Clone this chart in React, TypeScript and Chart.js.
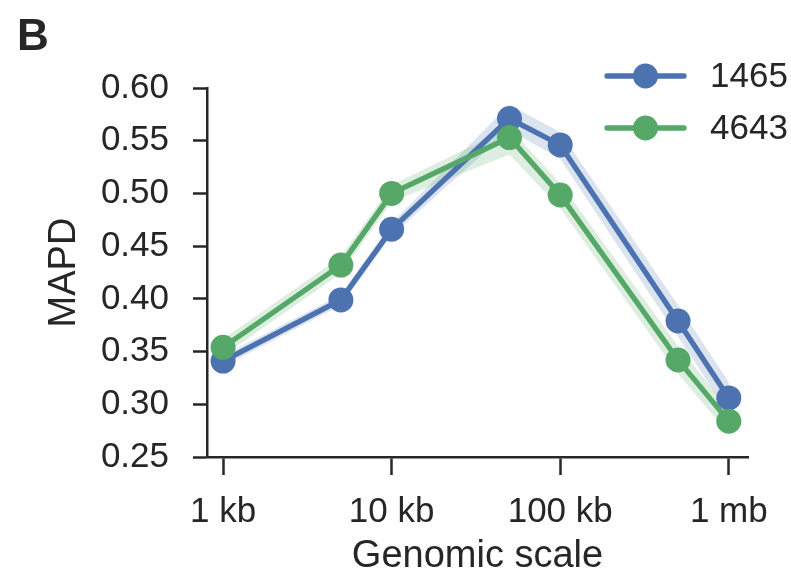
import React, { useEffect, useRef } from "react";
import { Chart, registerables } from "chart.js";

Chart.register(...registerables);

const scalesBp = [1000, 5000, 10000, 50000, 100000, 500000, 1000000];
const tickValues = [1000, 10000, 100000, 1000000];
const tickLabels = ["1 kb", "10 kb", "100 kb", "1 mb"];

const seriesNames = ["1465", "4643"];
const mapd1465 = [0.341, 0.399, 0.466, 0.571, 0.546, 0.379, 0.306];
const upper1465 = [0.346, 0.404, 0.472, 0.584, 0.558, 0.394, 0.321];
const lower1465 = [0.336, 0.394, 0.460, 0.560, 0.533, 0.364, 0.291];
const mapd4643 = [0.354, 0.432, 0.500, 0.553, 0.4985, 0.342, 0.284];
const upper4643 = [0.362, 0.440, 0.508, 0.562, 0.510, 0.355, 0.296];
const lower4643 = [0.346, 0.424, 0.492, 0.537, 0.486, 0.329, 0.272];

const BLUE = "#4C72B0";
const GREEN = "#55A868";
const BLUE_BAND = "rgba(76,114,176,0.2)";
const GREEN_BAND = "rgba(85,168,104,0.2)";
const DARK = "#262626";
const FONT = "'Liberation Sans', Arial, sans-serif";

const pts = (ys: number[]) => ys.map((y, i) => ({ x: scalesBp[i], y }));

export default function App() {
  const ref = useRef<HTMLCanvasElement | null>(null);

  useEffect(() => {
    document.body.style.margin = "0";
    const canvas = ref.current;
    if (!canvas) return;

    const extras = {
      id: "extras",
      afterDraw(chart: any) {
        const ctx = chart.ctx;
        const area = chart.chartArea;
        ctx.save();
        // panel letter
        ctx.fillStyle = DARK;
        ctx.font = `bold 44px ${FONT}`;
        ctx.textBaseline = "alphabetic";
        ctx.textAlign = "left";
        ctx.fillText("B", 17, 50);
        // legend
        const colors = [BLUE, GREEN];
        const x0 = area.right - 141;
        const x1 = area.right - 64;
        const cx = (x0 + x1) / 2;
        seriesNames.forEach((name, i) => {
          const y = area.top - 12 + i * 52;
          ctx.strokeStyle = colors[i];
          ctx.lineWidth = 5.3;
          ctx.lineCap = "round";
          ctx.beginPath();
          ctx.moveTo(x0, y);
          ctx.lineTo(x1, y);
          ctx.stroke();
          ctx.fillStyle = colors[i];
          ctx.beginPath();
          ctx.arc(cx, y, 12.5, 0, Math.PI * 2);
          ctx.fill();
          ctx.fillStyle = DARK;
          ctx.font = `35px ${FONT}`;
          ctx.textBaseline = "middle";
          ctx.fillText(name, x1 + 26, y + 1);
        });
        ctx.restore();
      },
    };

    const chart = new Chart(canvas, {
      type: "line",
      data: {
        datasets: [
          {
            label: "4643",
            data: pts(mapd4643),
            borderColor: GREEN,
            backgroundColor: GREEN,
            borderWidth: 5.3,
            pointRadius: 12.5,
            pointHoverRadius: 12.5,
            pointBorderWidth: 0,
            fill: false,
            order: 0,
          },
          {
            label: "1465",
            data: pts(mapd1465),
            borderColor: BLUE,
            backgroundColor: BLUE,
            borderWidth: 5.3,
            pointRadius: 12.5,
            pointHoverRadius: 12.5,
            pointBorderWidth: 0,
            fill: false,
            order: 1,
          },
          {
            label: "4643 upper",
            data: pts(upper4643),
            borderWidth: 0,
            borderColor: "rgba(0,0,0,0)",
            pointRadius: 0,
            backgroundColor: GREEN_BAND,
            fill: "+1",
            order: 2,
          },
          {
            label: "4643 lower",
            data: pts(lower4643),
            borderWidth: 0,
            borderColor: "rgba(0,0,0,0)",
            pointRadius: 0,
            fill: false,
            order: 2,
          },
          {
            label: "1465 upper",
            data: pts(upper1465),
            borderWidth: 0,
            borderColor: "rgba(0,0,0,0)",
            pointRadius: 0,
            backgroundColor: BLUE_BAND,
            fill: "+1",
            order: 3,
          },
          {
            label: "1465 lower",
            data: pts(lower1465),
            borderWidth: 0,
            borderColor: "rgba(0,0,0,0)",
            pointRadius: 0,
            fill: false,
            order: 3,
          },
        ],
      },
      options: {
        responsive: false,
        animation: false,
        events: [],
        layout: { padding: { top: 88, right: 43, left: 0, bottom: 0 } },
        plugins: {
          legend: { display: false },
          tooltip: { enabled: false },
        },
        scales: {
          x: {
            type: "logarithmic",
            min: 803,
            max: 1300000,
            border: { display: true, color: DARK, width: 2.5 },
            grid: {
              display: true,
              drawOnChartArea: false,
              drawTicks: true,
              tickLength: 18,
              tickColor: DARK,
              tickWidth: 2.5,
            },
            ticks: {
              autoSkip: false,
              maxRotation: 0,
              color: DARK,
              font: { family: FONT, size: 35 },
              padding: 16,
              callback: (v: any) => {
                const idx = tickValues.indexOf(Number(v));
                return idx >= 0 ? tickLabels[idx] : "";
              },
            },
            afterBuildTicks: (scale: any) => {
              scale.ticks = tickValues.map((v) => ({ value: v }));
            },
            afterFit: (scale: any) => {
              scale.height = 119;
            },
            title: {
              display: true,
              text: "Genomic scale",
              color: DARK,
              font: { family: FONT, size: 38, lineHeight: 1 },
              padding: { top: 0, bottom: 0 },
            },
          },
          y: {
            type: "linear",
            min: 0.25,
            max: 0.6,
            border: { display: true, color: DARK, width: 2.5 },
            grid: {
              display: true,
              drawOnChartArea: false,
              drawTicks: true,
              tickLength: 14,
              tickColor: DARK,
              tickWidth: 2.5,
            },
            ticks: {
              stepSize: 0.05,
              color: DARK,
              font: { family: FONT, size: 35 },
              padding: 24,
              callback: (v: any) => Number(v).toFixed(2),
            },
            afterFit: (scale: any) => {
              scale.width = 207;
            },
            title: {
              display: true,
              text: "MAPD",
              color: DARK,
              font: { family: FONT, size: 38, lineHeight: 1 },
              padding: { top: 46, bottom: 0 },
            },
          },
        },
      },
      plugins: [extras],
    });

    return () => chart.destroy();
  }, []);

  return (
    <div style={{ width: 791, height: 576 }}>
      <canvas ref={ref} width={791} height={576} style={{ display: "block" }} />
    </div>
  );
}
